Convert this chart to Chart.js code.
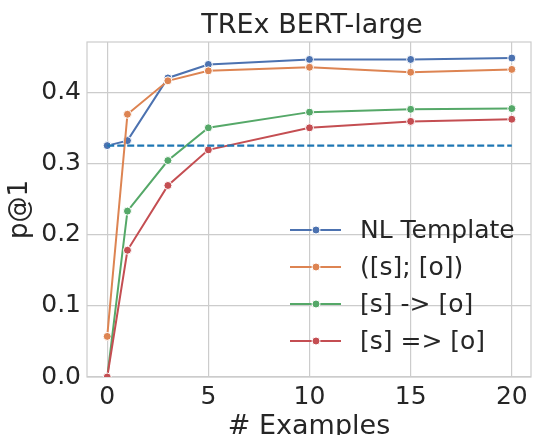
<!DOCTYPE html>
<html>
<head>
<meta charset="utf-8">
<script src="https://cdn.jsdelivr.net/npm/chart.js@4"></script>
<style>
  html, body { margin: 0; padding: 0; background: #fff; overflow: hidden; }
  canvas { display: block; }
</style>
</head>
<body>
<canvas id="chart" width="536" height="435"></canvas>
<script>
// ===== Data =====
const examples = [0, 1, 3, 5, 10, 15, 20];
const seriesNames = ['NL Template', '([s]; [o])', '[s] -> [o]', '[s] => [o]'];
const nlTemplate = [0.325, 0.332, 0.420, 0.439, 0.446, 0.446, 0.448];
const bracketSemi = [0.057, 0.369, 0.416, 0.430, 0.435, 0.428, 0.432];
const arrowSingle = [0.000, 0.233, 0.304, 0.350, 0.372, 0.376, 0.377];
const arrowDouble = [0.000, 0.178, 0.269, 0.319, 0.350, 0.359, 0.362];
const baselineX = [0, 20];
const baselineY = [0.325, 0.325];
const xTicks = [0, 5, 10, 15, 20];
const yTicks = [0.0, 0.1, 0.2, 0.3, 0.4];

const colors = ['#4c72b0', '#dd8452', '#55a868', '#c44e52'];
const textColor = '#262626';
const gridColor = '#cccccc';
const FONT = "'DejaVu Sans', sans-serif";

// ===== Datasets =====
const seriesValues = [nlTemplate, bracketSemi, arrowSingle, arrowDouble];
const datasets = seriesValues.map((vals, i) => ({
    label: seriesNames[i],
    data: examples.map((x, j) => ({ x: x, y: vals[j] })),
    borderColor: colors[i],
    backgroundColor: colors[i],
    borderWidth: 2,
    pointRadius: 4,
    pointBorderWidth: 1,
    pointBorderColor: '#ffffff',
    pointBackgroundColor: colors[i],
    order: 10 - i,
    clip: 0
}));
datasets.push({
    label: 'baseline',
    data: baselineX.map((x, j) => ({ x: x, y: baselineY[j] })),
    borderColor: '#1f77b4',
    borderWidth: 2.2,
    borderDash: [7, 3],
    pointRadius: 0,
    order: 0,
    clip: 0
});

// ===== Frame, title, legend =====
const decorations = {
    id: 'decorations',
    beforeDatasetsDraw(chart) {
        const { ctx, chartArea: a } = chart;
        ctx.save();
        ctx.strokeStyle = gridColor;
        ctx.lineWidth = 1.2;
        ctx.strokeRect(a.left, a.top, a.right - a.left, a.bottom - a.top);
        ctx.restore();
    },
    afterDraw(chart) {
        const { ctx, chartArea: a } = chart;
        ctx.save();
        ctx.fillStyle = textColor;
        ctx.font = '27px ' + FONT;
        ctx.textAlign = 'center';
        ctx.textBaseline = 'middle';
        ctx.fillText('TREx BERT-large', (a.left + a.right) / 2 + 3, 26);

        // legend
        ctx.font = '25px ' + FONT;
        ctx.textAlign = 'left';
        seriesNames.forEach((name, i) => {
            const y = 230 + i * 37;
            ctx.strokeStyle = colors[i];
            ctx.lineWidth = 2;
            ctx.beginPath();
            ctx.moveTo(290, y);
            ctx.lineTo(341, y);
            ctx.stroke();
            ctx.beginPath();
            ctx.arc(316, y, 4, 0, Math.PI * 2);
            ctx.fillStyle = colors[i];
            ctx.fill();
            ctx.strokeStyle = '#fff';
            ctx.lineWidth = 1;
            ctx.stroke();
            ctx.fillStyle = textColor;
            ctx.fillText(name, 360, y + 1.5);
        });
        ctx.restore();
    }
};

new Chart(document.getElementById('chart'), {
    type: 'line',
    data: { datasets: datasets },
    options: {
        responsive: false,
        animation: false,
        devicePixelRatio: 1,
        layout: { padding: { top: 42, left: 0, right: 0, bottom: 0 } },
        plugins: {
            legend: { display: false },
            tooltip: { enabled: false },
            title: { display: false }
        },
        scales: {
            x: {
                type: 'linear',
                min: -1,
                max: 20.95,
                afterFit: s => { s.height = 58; },
                afterBuildTicks: s => { s.ticks = xTicks.map(v => ({ value: v })); },
                grid: { color: gridColor, lineWidth: 1.2, drawTicks: false },
                border: { display: false },
                ticks: {
                    color: textColor,
                    font: { family: FONT, size: 25 },
                    padding: 5,
                    maxRotation: 0
                },
                title: {
                    display: true,
                    text: '# Examples',
                    color: textColor,
                    font: { family: FONT, size: 27 },
                    padding: { top: 0, bottom: -8 }
                }
            },
            y: {
                type: 'linear',
                min: 0,
                max: 0.4705,
                afterFit: s => { s.width = 87; },
                afterBuildTicks: s => { s.ticks = yTicks.map(v => ({ value: v })); },
                grid: { color: gridColor, lineWidth: 1.2, drawTicks: false },
                border: { display: false },
                ticks: {
                    color: textColor,
                    font: { family: FONT, size: 25 },
                    padding: 6,
                    callback: v => v.toFixed(1)
                },
                title: {
                    display: true,
                    text: 'p@1',
                    color: textColor,
                    font: { family: FONT, size: 26 },
                    padding: { top: 4.5, bottom: 0 }
                }
            }
        }
    },
    plugins: [decorations]
});
</script>
</body>
</html>
